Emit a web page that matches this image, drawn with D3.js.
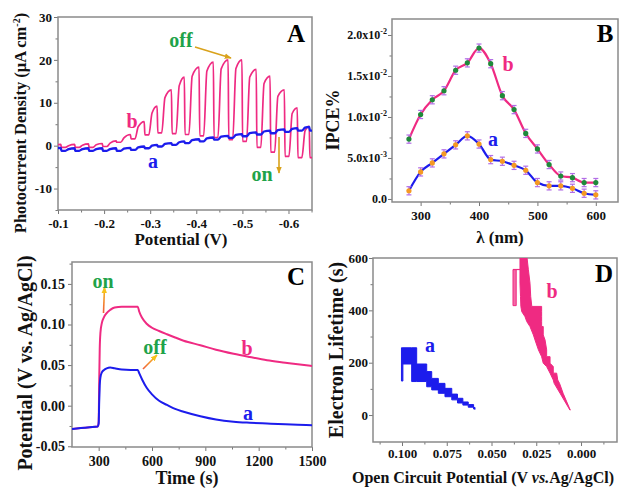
<!DOCTYPE html>
<html>
<head>
<meta charset="utf-8">
<title>Photoelectrochemical response</title>
<script src="https://cdn.jsdelivr.net/npm/d3@7"></script>
<style>
body { margin: 0; background: #fff; }
svg text { font-family: "Liberation Serif", "Times New Roman", serif; font-weight: bold; }
.tick text { font-family: "Liberation Serif", serif; font-size: 13px; font-weight: bold; fill: #111; }
.tick line { stroke: #777; }
.frame { fill: none; stroke: #8a8a8a; stroke-width: 1.5px; }
.lbl { font-size: 17px; fill: #111; }
.letter { font-size: 25px; fill: #000; }
.note { font-size: 20px; }
</style>
</head>
<body>
<svg id="chart" width="619" height="489"></svg>
<script>
// ---------- A: chopped-light photocurrent vs potential ----------
// potential (V) at which each light period ends ("off")
var chopOffV = [-0.106, -0.136, -0.166, -0.196, -0.226, -0.257, -0.287, -0.315, -0.346, -0.374,
                -0.406, -0.437, -0.469, -0.499, -0.530, -0.560, -0.591, -0.619, -0.645];
// curve b (uA cm-2): dark level before, level just after switching on, spike before switching off
var darkB  = [-0.4, -0.4, -0.4, -0.4, -0.2, 0.8, 1.6, 2.5, 3.0, 2.8, 2.6, 2.3, 1.9, 1.4, 1.0, -0.4, -1.5, -2.5, -2.8];
var riseB  = [0.0, 0.0, 0.1, 0.2, 0.6, 1.8, 4.4, 7.6, 11.2, 14.0, 16.2, 17.4, 17.9, 18.0, 16.0, 14.5, 11.5, 7.5, 3.5];
var peakB  = [0.3, 0.3, 0.4, 0.5, 1.1, 2.6, 5.6, 9.2, 13.0, 16.0, 18.3, 19.5, 20.0, 20.0, 17.8, 16.2, 13.0, 8.8, 4.5];
// curve a
var darkA  = [-1.1, -1.2, -1.2, -1.2, -1.2, -1.2, -1.0, -0.6, -0.2, 0.2, 0.6, 1.0, 1.4, 1.8, 2.2, 2.6, 2.9, 3.2, 3.5];
var riseA  = [-0.7, -0.8, -0.8, -0.8, -0.8, -0.7, -0.4, 0.0, 0.4, 0.8, 1.3, 1.7, 2.1, 2.5, 2.9, 3.3, 3.6, 3.9, 4.2];
var peakA  = [-0.5, -0.6, -0.6, -0.6, -0.6, -0.5, -0.2, 0.2, 0.6, 1.0, 1.5, 1.9, 2.3, 2.7, 3.1, 3.5, 3.8, 4.1, 4.4];

// ---------- B: IPCE ----------
var wavelength = [280, 300, 320, 340, 360, 380, 400, 420, 440, 460, 480, 500, 520, 540, 560, 580, 600];
var ipceB = [0.0073, 0.0103, 0.0121, 0.0132, 0.0157, 0.0166, 0.0184, 0.0165, 0.0126, 0.0109, 0.0080,
             0.0061, 0.0042, 0.0028, 0.0026, 0.0020, 0.0020];
var ipceA = [0.0010, 0.0033, 0.0044, 0.0055, 0.0066, 0.0077, 0.0067, 0.0048, 0.0046, 0.0041, 0.0035,
             0.0020, 0.0016, 0.0016, 0.0013, 0.0007, 0.0005];
var ipceErr = 0.0005;

// ---------- C: open circuit potential vs time ----------
var timeC = [150, 200, 250, 295, 300, 303, 306, 310, 318, 330, 345, 365, 390, 430, 480, 520, 528, 545,
             570, 600, 640, 684, 730, 778, 872, 960, 1059, 1150, 1247, 1350, 1420, 1500];
var ocpB = [-0.0287, -0.0276, -0.0266, -0.0256, -0.020, 0.030, 0.070, 0.090, 0.102, 0.109, 0.114, 0.118,
            0.121, 0.122, 0.122, 0.122, 0.116, 0.108, 0.101, 0.096, 0.092, 0.088, 0.084, 0.080, 0.0745,
            0.069, 0.064, 0.060, 0.056, 0.053, 0.051, 0.049];
var ocpA = [-0.0287, -0.0276, -0.0266, -0.0256, -0.022, 0.005, 0.025, 0.035, 0.041, 0.044, 0.046, 0.047,
            0.046, 0.0445, 0.044, 0.044, 0.040, 0.032, 0.022, 0.014, 0.006, 0.001, -0.004, -0.0075, -0.013,
            -0.017, -0.0197, -0.021, -0.022, -0.023, -0.0235, -0.024];

// ---------- D: electron lifetime vs OCP (noisy bands: upper / lower envelope) ----------
var vocA    = [0.1003, 0.0995, 0.0946, 0.0918, 0.0862, 0.0834, 0.0797, 0.0760, 0.0722, 0.0690, 0.0660, 0.0630, 0.0600, 0.0592];
var tauTopA = [257, 257, 257, 195, 166, 140, 121, 102, 80, 64, 50, 40, 29, 24];
var tauBotA = [130, 195, 128, 128, 108, 96, 83, 70, 58, 46, 38, 30, 23, 22];
var tauB      = [610, 555, 504, 453, 415, 415, 395, 376, 357, 338, 338, 306, 287, 249, 223, 223,
                 198, 185, 160, 160, 134, 121, 83, 19];
var vocLeftB  = [0.0341, 0.0341, 0.0341, 0.0338, 0.0336, 0.0336, 0.0331, 0.0313, 0.0303, 0.0285, 0.0285,
                 0.0266, 0.0257, 0.0238, 0.0220, 0.0220, 0.0211, 0.0192, 0.0173, 0.0173, 0.0155, 0.0150,
                 0.0117, 0.0062];
var vocRightB = [0.0303, 0.0294, 0.0285, 0.0281, 0.0275, 0.0220, 0.0220, 0.0220, 0.0220, 0.0220, 0.0211,
                 0.0211, 0.0201, 0.0192, 0.0192, 0.0173, 0.0173, 0.0155, 0.0155, 0.0136, 0.0130, 0.0120,
                 0.0100, 0.0060];
// thin side trace of b
var tauHookB  = [556, 418];
var vocHookL  = [0.0380, 0.0380];
var vocHookR  = [0.0362, 0.0362];

var PINK = "#ef2a82", BLUE = "#1c1cec", GOLD = "#d9a21b", GREEN = "#1fa34a";

var svg = d3.select("#chart");
var defs = svg.append("defs");

function clip(id, box) {
	defs.append("clipPath").attr("id", id).append("rect")
		.attr("x", box.l).attr("y", box.t).attr("width", box.r - box.l).attr("height", box.b - box.t);
	return "url(#" + id + ")";
}

function axes(box, x, y, o) {
	var g = svg.append("g");
	g.append("g").attr("transform", "translate(0," + box.b + ")")
		.call(d3.axisBottom(x).tickValues(o.xMinor).tickSize(2.5).tickFormat(""));
	g.append("g").attr("transform", "translate(0," + box.b + ")")
		.call(d3.axisBottom(x).tickValues(o.xMajor).tickSize(4).tickPadding(o.xPad).tickFormat(o.xFmt));
	g.append("g").attr("transform", "translate(" + box.l + ",0)")
		.call(d3.axisLeft(y).tickValues(o.yMinor).tickSize(2.5).tickFormat(""));
	var yl = g.append("g").attr("transform", "translate(" + box.l + ",0)")
		.call(d3.axisLeft(y).tickValues(o.yMajor).tickSize(4).tickPadding(o.yPad).tickFormat(o.yFmt));
	g.selectAll(".domain").remove();
	if (o.size) g.selectAll(".tick text").style("font-size", o.size + "px");
	svg.append("rect").attr("class", "frame")
		.attr("x", box.l).attr("y", box.t).attr("width", box.r - box.l).attr("height", box.b - box.t);
	return yl;
}

function text(x, y, s, cls, color, anchor) {
	return svg.append("text").attr("class", cls).attr("x", x).attr("y", y)
		.attr("text-anchor", anchor || "middle").style("fill", color || null).text(s);
}

function vtext(x, y, cls) {
	return svg.append("text").attr("class", cls).attr("text-anchor", "middle")
		.attr("transform", "translate(" + x + "," + y + ") rotate(-90)");
}

function marker(id, color) {
	defs.append("marker").attr("id", id).attr("viewBox", "0 0 10 8")
		.attr("refX", 9).attr("refY", 4).attr("markerWidth", 7).attr("markerHeight", 6)
		.attr("markerUnits", "userSpaceOnUse").attr("orient", "auto")
		.append("path").attr("d", "M0,0 L10,4 L0,8 z").attr("fill", color);
}
marker("arrGold", GOLD);
marker("arrYel", "#f7c21b");

function arrow(x1, y1, x2, y2, stroke, m) {
	svg.append("line").attr("x1", x1).attr("y1", y1).attr("x2", x2).attr("y2", y2)
		.attr("stroke", stroke).attr("stroke-width", 1.6).attr("marker-end", "url(#" + m + ")");
}

var hyph = function (n) { return function (d) { return d.toFixed(n); }; };

// ================= Panel A =================
var boxA = {l: 58, r: 312, t: 17, b: 210};
var xA = d3.scaleLinear().domain([-0.1, -0.651]).range([boxA.l, boxA.r]);
var yA = d3.scaleLinear().domain([-15, 30]).range([boxA.b, boxA.t]);
axes(boxA, xA, yA, {
	xMajor: [-0.1, -0.2, -0.3, -0.4, -0.5, -0.6], xMinor: [-0.15, -0.25, -0.35, -0.45, -0.55, -0.65],
	yMajor: [-10, 0, 10, 20, 30], yMinor: [-15, -5, 5, 15, 25],
	xFmt: hyph(1), yFmt: hyph(0), xPad: 5, yPad: 2
});

function chopped(dark, rise, peak) {
	var pts = [];
	chopOffV.forEach(function (v, i) {
		var prev = i ? chopOffV[i - 1] : v + 0.030;
		pts.push([prev - 0.0015, dark[i]]);
		pts.push([prev - 0.0100, dark[i]]);
		pts.push([prev - 0.0170, rise[i]]);
		pts.push([v, peak[i]]);
	});
	var last = chopOffV[chopOffV.length - 1], n = dark.length - 1;
	pts.push([last - 0.0015, dark[n]]);
	pts.push([last - 0.0100, dark[n]]);
	return pts;
}
var lineA = d3.line().x(function (d) { return xA(d[0]); }).y(function (d) { return yA(d[1]); })
	.curve(d3.curveMonotoneX);
var gA = svg.append("g").attr("clip-path", clip("clipA", boxA));
gA.append("path").attr("d", lineA(chopped(darkB, riseB, peakB)))
	.attr("fill", "none").attr("stroke", PINK).attr("stroke-width", 1.7);
gA.append("path").attr("d", lineA(chopped(darkA, riseA, peakA)))
	.attr("fill", "none").attr("stroke", BLUE).attr("stroke-width", 2.3);

text(296, 42, "A", "letter");
text(132, 128, "b", "note", PINK);
text(153, 168, "a", "note", BLUE);
text(181, 47, "off", "note", GREEN);
text(262, 181, "on", "note", GREEN);
arrow(195, 47, 231, 58, GOLD, "arrGold");
arrow(279, 137, 279, 173, GOLD, "arrGold");
text(181, 245, "Potential (V)", "lbl");
var tA = vtext(26, 123, "lbl").style("font-size", "16.5px");
tA.append("tspan").text("Photocurrent Density (\u03bcA cm");
tA.append("tspan").attr("dy", -6).style("font-size", "10px").text("-2");
tA.append("tspan").attr("dy", 6).text(")");

// ================= Panel B =================
var boxB = {l: 392, r: 618, t: 19, b: 202};
var xB = d3.scaleLinear().domain([251, 638]).range([boxB.l, boxB.r]);
var yB = d3.scaleLinear().domain([-0.00037, 0.02195]).range([boxB.b, boxB.t]);
var yTickB = [0, 0.005, 0.01, 0.015, 0.02];
var yTickTextB = [["0.0", ""], ["5.0x10", "-3"], ["1.0x10", "-2"], ["1.5x10", "-2"], ["2.0x10", "-2"]];
var ylB = axes(boxB, xB, yB, {
	xMajor: [300, 400, 500, 600], xMinor: [350, 450, 550],
	yMajor: yTickB, yMinor: [0.0025, 0.0075, 0.0125, 0.0175],
	xFmt: d3.format("d"), yFmt: function () { return ""; }, xPad: 5, yPad: 1
});
ylB.selectAll(".tick text").style("font-size", "12px").each(function (d, i) {
	var t = d3.select(this);
	t.append("tspan").text(yTickTextB[i][0]);
	if (yTickTextB[i][1]) t.append("tspan").attr("dy", -5).style("font-size", "8px").text(yTickTextB[i][1]);
});

function seriesB(vals, color, dot) {
	var pts = wavelength.map(function (w, i) { return [w, vals[i]]; });
	var g = svg.append("g").attr("clip-path", clip("clipB" + dot.slice(1), boxB));
	g.append("path").attr("d", d3.line().x(function (d) { return xB(d[0]); }).y(function (d) { return yB(d[1]); })
		.curve(d3.curveMonotoneX)(pts))
		.attr("fill", "none").attr("stroke", color).attr("stroke-width", 2.2);
	var eb = g.selectAll(".eb" + dot.slice(1)).data(pts).enter().append("g");
	eb.append("line").attr("x1", function (d) { return xB(d[0]); }).attr("x2", function (d) { return xB(d[0]); })
		.attr("y1", function (d) { return yB(d[1] - ipceErr); }).attr("y2", function (d) { return yB(d[1] + ipceErr); })
		.attr("stroke", "#b36ee6").attr("stroke-width", 1.2);
	[-1, 1].forEach(function (s) {
		eb.append("line").attr("x1", function (d) { return xB(d[0]) - 2.5; }).attr("x2", function (d) { return xB(d[0]) + 2.5; })
			.attr("y1", function (d) { return yB(d[1] + s * ipceErr); }).attr("y2", function (d) { return yB(d[1] + s * ipceErr); })
			.attr("stroke", "#b36ee6").attr("stroke-width", 1.2);
	});
	eb.append("circle").attr("cx", function (d) { return xB(d[0]); }).attr("cy", function (d) { return yB(d[1]); })
		.attr("r", 2.6).attr("fill", dot);
}
seriesB(ipceB, PINK, "#1f8a3a");
seriesB(ipceA, BLUE, "#f59a23");

text(605, 42, "B", "letter");
text(508, 71, "b", "note", PINK);
text(493, 146, "a", "note", BLUE);
text(500, 243, "\u03bb (nm)", "lbl");
vtext(339, 120, "lbl").style("font-size", "18px").text("IPCE%");

// ================= Panel C =================
var boxC = {l: 72, r: 312, t: 262, b: 447};
var xC = d3.scaleLinear().domain([150, 1500]).range([boxC.l, boxC.r]);
var yC = d3.scaleLinear().domain([-0.0509, 0.177]).range([boxC.b, boxC.t]);
axes(boxC, xC, yC, {
	xMajor: [300, 600, 900, 1200, 1500], xMinor: [450, 750, 1050, 1350],
	yMajor: [-0.05, 0, 0.05, 0.10, 0.15], yMinor: [-0.025, 0.025, 0.075, 0.125, 0.175],
	xFmt: d3.format("d"), yFmt: hyph(2), xPad: 5, yPad: 3, size: 14
});
var lineC = d3.line().x(function (d) { return xC(d[0]); }).y(function (d) { return yC(d[1]); })
	.curve(d3.curveMonotoneX);
var gC = svg.append("g").attr("clip-path", clip("clipC", boxC));
gC.append("path").attr("d", lineC(timeC.map(function (t, i) { return [t, ocpB[i]]; })))
	.attr("fill", "none").attr("stroke", PINK).attr("stroke-width", 2);
gC.append("path").attr("d", lineC(timeC.map(function (t, i) { return [t, ocpA[i]]; })))
	.attr("fill", "none").attr("stroke", BLUE).attr("stroke-width", 2);

var grad = defs.append("linearGradient").attr("id", "gOn").attr("gradientUnits", "userSpaceOnUse")
	.attr("x1", 103).attr("y1", 312).attr("x2", 104).attr("y2", 287);
grad.append("stop").attr("offset", 0).attr("stop-color", "#f0603a");
grad.append("stop").attr("offset", 1).attr("stop-color", "#f7c21b");
var grad2 = defs.append("linearGradient").attr("id", "gOff").attr("gradientUnits", "userSpaceOnUse")
	.attr("x1", 143).attr("y1", 369).attr("x2", 157).attr("y2", 355);
grad2.append("stop").attr("offset", 0).attr("stop-color", "#f0603a");
grad2.append("stop").attr("offset", 1).attr("stop-color", "#f7c21b");
arrow(103.5, 313, 104.5, 287, "url(#gOn)", "arrYel");
arrow(143, 369, 157, 355, "url(#gOff)", "arrYel");
text(296, 285, "C", "letter");
text(103, 288, "on", "note", GREEN);
text(155, 354, "off", "note", GREEN);
text(247, 355, "b", "note", PINK);
text(248, 420, "a", "note", BLUE);
text(187, 484, "Time (s)", "lbl").style("font-size", "18px");
vtext(32, 363, "lbl").style("font-size", "20px").text("Potential (V vs. Ag/AgCl)");

// ================= Panel D =================
var boxD = {l: 373, r: 617, t: 258, b: 442};
var xD = d3.scaleLinear().domain([0.1162, -0.0201]).range([boxD.l, boxD.r]);
var yD = d3.scaleLinear().domain([-103, 600]).range([boxD.b, boxD.t]);
axes(boxD, xD, yD, {
	xMajor: [0.1, 0.075, 0.05, 0.025, 0], xMinor: [0.1125, 0.0875, 0.0625, 0.0375, 0.0125, -0.0125],
	yMajor: [0, 200, 400, 600], yMinor: [100, 300, 500],
	xFmt: hyph(3), yFmt: d3.format("d"), xPad: 3, yPad: 1
});
var gD = svg.append("g").attr("clip-path", clip("clipD", boxD));
gD.append("path")
	.attr("d", d3.area().curve(d3.curveStepAfter)
		.x(function (d, i) { return xD(vocA[i]); })
		.y0(function (d, i) { return yD(tauBotA[i]); })
		.y1(function (d, i) { return yD(tauTopA[i]); })(vocA))
	.attr("fill", BLUE).attr("stroke", BLUE).attr("stroke-width", 1);
gD.append("path")
	.attr("d", d3.area()
		.y(function (d, i) { return yD(tauB[i]); })
		.x0(function (d, i) { return xD(vocLeftB[i]); })
		.x1(function (d, i) { return xD(vocRightB[i]); })(tauB))
	.attr("fill", PINK).attr("stroke", PINK).attr("stroke-width", 1);
gD.append("path")
	.attr("d", d3.area()
		.y(function (d, i) { return yD(tauHookB[i]); })
		.x0(function (d, i) { return xD(vocHookL[i]); })
		.x1(function (d, i) { return xD(vocHookR[i]); })(tauHookB))
	.attr("fill", "#f46aa6").attr("stroke", PINK).attr("stroke-width", 1);
gD.append("line").attr("x1", xD(vocHookL[0])).attr("x2", xD(vocLeftB[0]))
	.attr("y1", yD(tauHookB[0])).attr("y2", yD(tauHookB[0]))
	.attr("stroke", PINK).attr("stroke-width", 1.2);

text(604, 282, "D", "letter");
text(552, 298, "b", "note", PINK);
text(430, 352, "a", "note", BLUE);
var tD = text(483, 483, "", "lbl").style("font-size", "16px");
tD.append("tspan").text("Open Circuit Potential (V ");
tD.append("tspan").style("font-style", "italic").text("vs.");
tD.append("tspan").text("Ag/AgCl)");
vtext(343, 350, "lbl").style("font-size", "20px").text("Electron Lifetime (s)");
</script>
</body>
</html>
